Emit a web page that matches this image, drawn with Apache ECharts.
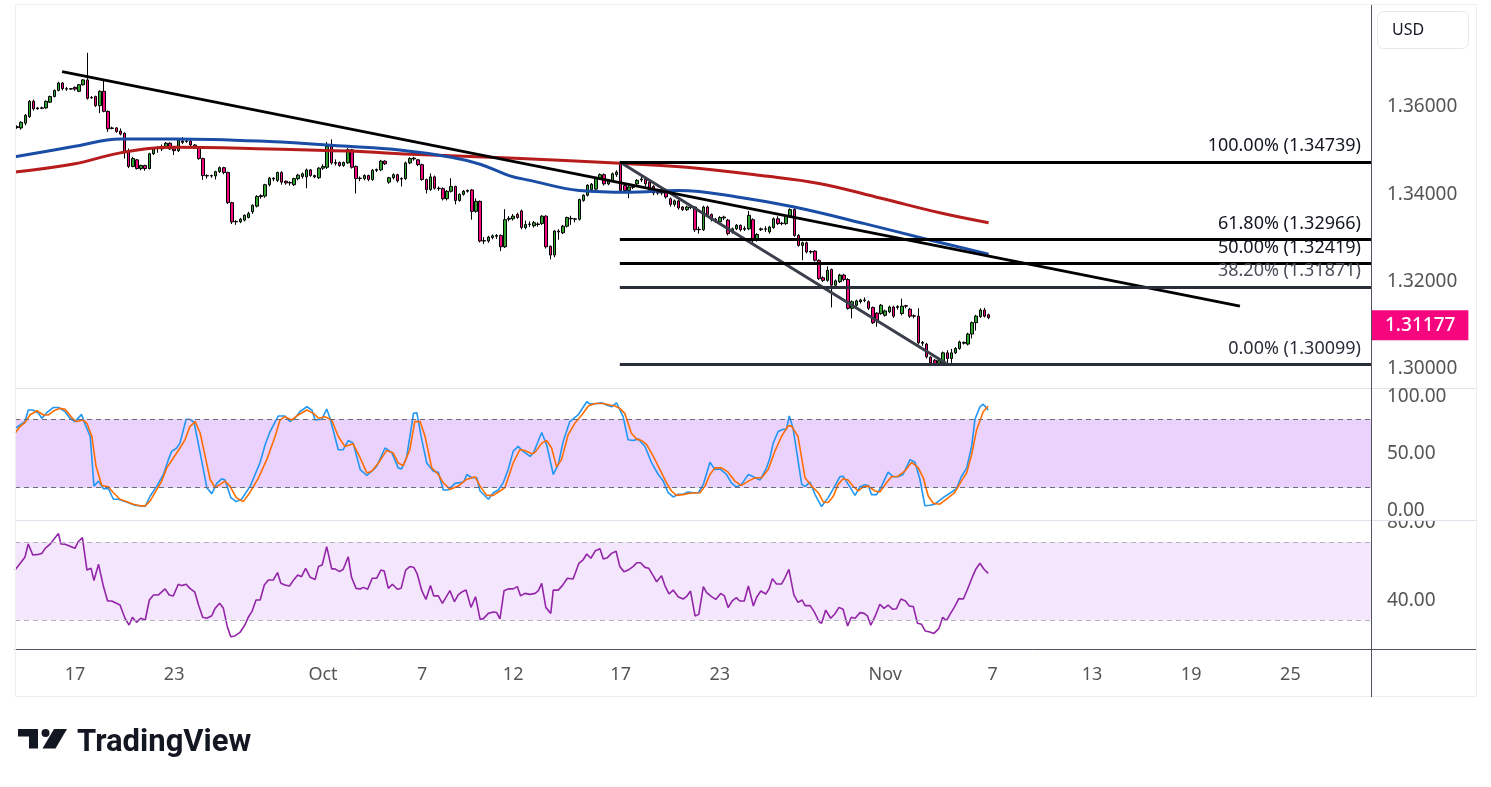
<!DOCTYPE html>
<html>
<head>
<meta charset="utf-8">
<title>GBPUSD 4H</title>
<script src="https://cdn.jsdelivr.net/npm/echarts@6/dist/echarts.min.js"></script>
<style>
  html, body { margin: 0; padding: 0; background: #fff; }
  #chart { width: 1491px; height: 787px; }
</style>
</head>
<body>
<div id="chart"></div>
<script>
// ---- data ----
// 4h candles, [open, close, low, high], first bar Sun 14 Sep 2025 17:00 (New York)
const candles = [
  [1.3553,1.3555,1.3550,1.3558],[1.3552,1.3565,1.3548,1.3567],[1.3563,1.3581,1.3558,1.3584],[1.3578,1.3613,1.3575,1.3616],
  [1.3613,1.3596,1.3592,1.3617],[1.3596,1.3598,1.3594,1.3600],[1.3598,1.3597,1.3595,1.3601],[1.3598,1.3613,1.3596,1.3615],
  [1.3611,1.3624,1.3609,1.3626],[1.3624,1.3638,1.3622,1.3640],[1.3638,1.3655,1.3636,1.3658],[1.3655,1.3642,1.3638,1.3657],
  [1.3642,1.3641,1.3637,1.3646],[1.3641,1.3642,1.3639,1.3643],
  [1.3645,1.3641,1.3637,1.3647],[1.3636,1.3651,1.3634,1.3653],[1.3651,1.3662,1.3649,1.3664],[1.3662,1.3620,1.3617,1.3724],
  [1.3622,1.3621,1.3619,1.3625],[1.3624,1.3603,1.3600,1.3626],[1.3603,1.3636,1.3586,1.3638],[1.3636,1.3590,1.3588,1.3661],
  [1.3590,1.3550,1.3543,1.3592],[1.3551,1.3552,1.3549,1.3555],[1.3552,1.3544,1.3541,1.3554],[1.3545,1.3538,1.3535,1.3551],
  [1.3540,1.3498,1.3482,1.3542],[1.3498,1.3464,1.3460,1.3505],[1.3464,1.3482,1.3462,1.3486],[1.3479,1.3459,1.3457,1.3481],
  [1.3459,1.3466,1.3455,1.3468],[1.3466,1.3459,1.3454,1.3468],[1.3459,1.3493,1.3457,1.3495],[1.3493,1.3504,1.3490,1.3506],
  [1.3505,1.3506,1.3495,1.3510],[1.3504,1.3509,1.3499,1.3514],[1.3509,1.3517,1.3505,1.3520],[1.3517,1.3504,1.3502,1.3519],
  [1.3504,1.3500,1.3490,1.3506],[1.3500,1.3525,1.3497,1.3528],
  [1.3519,1.3522,1.3515,1.3531],[1.3521,1.3522,1.3518,1.3525],[1.3522,1.3513,1.3510,1.3524],[1.3513,1.3506,1.3504,1.3515],
  [1.3508,1.3482,1.3479,1.3510],[1.3482,1.3443,1.3433,1.3484],[1.3443,1.3442,1.3436,1.3446],[1.3442,1.3443,1.3438,1.3445],
  [1.3442,1.3452,1.3434,1.3454],[1.3452,1.3461,1.3449,1.3464],
  [1.3461,1.3450,1.3446,1.3463],[1.3450,1.3381,1.3378,1.3452],[1.3381,1.3337,1.3332,1.3383],[1.3337,1.3338,1.3330,1.3341],
  [1.3337,1.3343,1.3334,1.3346],[1.3341,1.3352,1.3338,1.3354],[1.3347,1.3356,1.3345,1.3360],[1.3360,1.3375,1.3355,1.3377],
  [1.3373,1.3395,1.3370,1.3398],[1.3395,1.3397,1.3390,1.3400],
  [1.3396,1.3422,1.3392,1.3424],[1.3422,1.3437,1.3418,1.3440],[1.3437,1.3435,1.3430,1.3439],[1.3432,1.3450,1.3428,1.3452],
  [1.3450,1.3428,1.3422,1.3453],[1.3430,1.3426,1.3422,1.3432],[1.3426,1.3427,1.3420,1.3430],[1.3422,1.3436,1.3419,1.3438],
  [1.3436,1.3444,1.3432,1.3447],[1.3441,1.3447,1.3436,1.3450],
  [1.3440,1.3456,1.3414,1.3459],[1.3456,1.3443,1.3440,1.3458],[1.3443,1.3440,1.3437,1.3445],[1.3438,1.3460,1.3435,1.3462],
  [1.3460,1.3464,1.3456,1.3469],[1.3462,1.3510,1.3458,1.3520],[1.3510,1.3472,1.3468,1.3526],[1.3473,1.3471,1.3466,1.3480],
  [1.3473,1.3466,1.3463,1.3475],[1.3466,1.3473,1.3463,1.3475],
  [1.3472,1.3502,1.3470,1.3506],[1.3502,1.3462,1.3459,1.3504],[1.3464,1.3436,1.3402,1.3466],[1.3436,1.3437,1.3430,1.3441],
  [1.3436,1.3443,1.3432,1.3446],[1.3443,1.3434,1.3430,1.3445],[1.3434,1.3455,1.3431,1.3458],[1.3455,1.3457,1.3451,1.3459],
  [1.3456,1.3476,1.3453,1.3479],[1.3476,1.3470,1.3467,1.3478],
  [1.3428,1.3438,1.3424,1.3440],[1.3438,1.3445,1.3434,1.3448],[1.3445,1.3431,1.3427,1.3447],[1.3435,1.3436,1.3418,1.3439],
  [1.3436,1.3472,1.3433,1.3475],[1.3472,1.3482,1.3469,1.3485],[1.3481,1.3483,1.3477,1.3486],[1.3479,1.3468,1.3465,1.3481],
  [1.3468,1.3434,1.3431,1.3470],[1.3434,1.3411,1.3402,1.3436],
  [1.3411,1.3440,1.3408,1.3448],[1.3440,1.3414,1.3411,1.3443],[1.3414,1.3413,1.3408,1.3418],[1.3413,1.3390,1.3386,1.3416],
  [1.3390,1.3407,1.3386,1.3410],[1.3407,1.3418,1.3404,1.3437],[1.3418,1.3386,1.3377,1.3420],[1.3386,1.3400,1.3383,1.3402],
  [1.3400,1.3407,1.3397,1.3410],[1.3407,1.3409,1.3404,1.3411],
  [1.3410,1.3361,1.3342,1.3412],[1.3361,1.3384,1.3358,1.3391],[1.3384,1.3293,1.3290,1.3386],[1.3294,1.3293,1.3286,1.3302],
  [1.3293,1.3302,1.3289,1.3305],[1.3301,1.3305,1.3297,1.3308],[1.3304,1.3306,1.3298,1.3309],[1.3306,1.3280,1.3270,1.3308],
  [1.3280,1.3342,1.3277,1.3366],[1.3343,1.3345,1.3338,1.3350],
  [1.3344,1.3350,1.3340,1.3355],[1.3354,1.3347,1.3344,1.3358],[1.3362,1.3324,1.3320,1.3365],[1.3324,1.3331,1.3320,1.3340],
  [1.3331,1.3332,1.3325,1.3338],[1.3328,1.3335,1.3324,1.3339],[1.3331,1.3332,1.3326,1.3336],[1.3333,1.3350,1.3330,1.3352],
  [1.3350,1.3280,1.3276,1.3352],[1.3281,1.3261,1.3251,1.3283],
  [1.3261,1.3316,1.3256,1.3318],[1.3316,1.3314,1.3296,1.3320],[1.3312,1.3327,1.3309,1.3330],[1.3327,1.3347,1.3324,1.3349],
  [1.3345,1.3344,1.3330,1.3351],[1.3343,1.3344,1.3336,1.3346],[1.3343,1.3388,1.3340,1.3390],[1.3386,1.3398,1.3383,1.3400],
  [1.3398,1.3421,1.3395,1.3423],[1.3411,1.3423,1.3409,1.3426],
  [1.3412,1.3437,1.3408,1.3440],[1.3436,1.3445,1.3433,1.3448],[1.3445,1.3424,1.3420,1.3448],[1.3424,1.3432,1.3421,1.3434],
  [1.3432,1.3447,1.3429,1.3450],[1.3445,1.3451,1.3440,1.3455],[1.3469,1.3409,1.3403,1.34739],[1.3420,1.3409,1.3405,1.3423],
  [1.3409,1.3417,1.3391,1.3420],[1.3416,1.3418,1.3412,1.3421],
  [1.3424,1.3432,1.3421,1.3435],[1.3433,1.3435,1.3428,1.3440],[1.3434,1.3424,1.3418,1.3437],[1.3428,1.3409,1.3404,1.3431],
  [1.3418,1.3403,1.3398,1.3421],[1.3410,1.3403,1.3399,1.3413],[1.3403,1.3410,1.3398,1.3413],[1.3410,1.3394,1.3390,1.3413],
  [1.3390,1.3377,1.3372,1.3393],[1.3377,1.3385,1.3372,1.3388],
  [1.3385,1.3369,1.3365,1.3388],[1.3371,1.3365,1.3362,1.3373],[1.3365,1.3371,1.3362,1.3374],[1.3370,1.3372,1.3366,1.3376],
  [1.3371,1.3319,1.3314,1.3373],[1.3320,1.3319,1.3310,1.3326],[1.3319,1.3371,1.3316,1.3374],[1.3371,1.3354,1.3351,1.3374],
  [1.3354,1.3342,1.3338,1.3356],[1.3343,1.3341,1.3335,1.3346],
  [1.3337,1.3347,1.3333,1.3350],[1.3346,1.3348,1.3341,1.3351],[1.3341,1.3310,1.3306,1.3344],[1.3314,1.3321,1.3310,1.3324],
  [1.3321,1.3329,1.3318,1.3332],[1.3329,1.3319,1.3315,1.3331],[1.3320,1.3322,1.3316,1.3327],[1.3321,1.3352,1.3318,1.3362],
  [1.3342,1.3295,1.3287,1.3345],[1.3296,1.3308,1.3292,1.3311],
  [1.3319,1.3321,1.3316,1.3324],[1.3321,1.3320,1.3314,1.3327],[1.3314,1.3325,1.3310,1.3328],[1.3324,1.3344,1.3321,1.3347],
  [1.3344,1.3333,1.3330,1.3350],[1.3334,1.3333,1.3329,1.3337],[1.3333,1.3350,1.3330,1.3353],[1.3350,1.3365,1.3347,1.3368],
  [1.3365,1.3306,1.3303,1.3368],[1.3306,1.3283,1.3280,1.3309],
  [1.3283,1.3289,1.3249,1.3292],[1.3289,1.3268,1.3265,1.3292],[1.3269,1.3268,1.3264,1.3272],[1.3270,1.3249,1.3246,1.3272],
  [1.3249,1.3207,1.3204,1.3251],[1.3209,1.3203,1.3199,1.3212],[1.3203,1.3226,1.3200,1.3235],[1.3228,1.3192,1.3141,1.3230],
  [1.3192,1.3202,1.3188,1.3205],[1.3200,1.3215,1.3197,1.3218],
  [1.3215,1.3205,1.3201,1.3218],[1.3205,1.3139,1.3136,1.3208],[1.3139,1.3154,1.3116,1.3157],[1.3146,1.3156,1.3143,1.3159],
  [1.3154,1.3158,1.3150,1.3161],[1.3157,1.3158,1.3153,1.3164],[1.3154,1.3139,1.3135,1.3157],[1.3141,1.3106,1.3103,1.3143],
  [1.3128,1.3112,1.3097,1.3130],[1.3127,1.3146,1.3124,1.3149],
  [1.3123,1.3133,1.3120,1.3136],[1.3131,1.3142,1.3128,1.3145],[1.3142,1.3121,1.3117,1.3145],[1.3141,1.3143,1.3136,1.3146],
  [1.3127,1.3144,1.3123,1.3161],[1.3145,1.3144,1.3139,1.3147],[1.3137,1.3121,1.3117,1.3140],[1.3122,1.3121,1.3116,1.3125],
  [1.3121,1.3060,1.3056,1.3139],[1.3061,1.3059,1.3053,1.3064],
  [1.3057,1.3028,1.3024,1.3060],[1.3027,1.3014,1.3010,1.3029],[1.3020,1.3013,1.30099,1.3023],[1.3013,1.3019,1.3010,1.3022],
  [1.3015,1.3037,1.3012,1.3040],[1.3037,1.3024,1.3012,1.3043],[1.3024,1.3037,1.3014,1.3046],[1.3037,1.3047,1.3034,1.3050],
  [1.3047,1.3062,1.3044,1.3065],[1.3059,1.3061,1.3056,1.3063],
  [1.3057,1.3080,1.3054,1.3083],[1.3080,1.3106,1.3070,1.3109],[1.3106,1.3121,1.3088,1.3124],[1.3120,1.3135,1.3117,1.3139],
  [1.3135,1.3121,1.3118,1.3140],[1.3124,1.31177,1.3114,1.3127]
];
const lastPrice = 1.31177;

// moving averages, [bar index, price] read at points along each line
const maBlue = [[-0.5,1.3486],[14,1.3510],[25,1.3527],[38,1.3527],[61,1.3521],[80,1.3510],[92,1.3502],[105,1.3485],
  [112,1.3469],[119,1.3443],[124,1.3432],[136,1.3409],[148,1.3405],[160,1.3409],[175,1.3393],[188,1.3371],
  [205,1.3333],[221,1.3295],[235,1.3263]];
const maRed = [[-0.5,1.3451],[14,1.3470],[25,1.3495],[38,1.3508],[61,1.3504],[80,1.3499],[97,1.3491],[119,1.3483],
  [146,1.3471],[162,1.3462],[180,1.3443],[194,1.3425],[209,1.3391],[224,1.3356],[235,1.3335]];

// drawings
const trendLine = [[10.9,1.3681],[295.8,1.3144]];
const channelLine = [[145.8,1.34739],[224.7,1.3013]];
const fibStart = 145.8;
const fibNames = ['100.00%','61.80%','50.00%','38.20%','0.00%'];
const fibPrices = [1.34739,1.32966,1.32419,1.31871,1.30099];

// Stochastic RSI (%K, %D) and RSI, [bar index, value]
const stochK = [[-0.5,72],[1.9,78.0],[2.7,88.1],[3.9,88.1],[5.2,85.2],[6.0,80.9],[7.2,85.8],[8.8,90.4],[10.0,90.4],[11.6,86.7],
  [12.8,80.9],[14.0,78.0],[15.6,84.3],[16.2,78.0],[17.7,64.9],[18.6,21.4],[19.7,25.8],[20.9,19.1],[22.1,19.1],[23.3,9.9],
  [24.5,9.9],[26.1,7.8],[27.3,6.4],[28.5,4.6],[29.8,4.1],[31.0,3.5],[32.2,12.7],[33.8,21.4],[35.4,31.6],[36.6,44.6],
  [37.4,51.9],[38.6,54.8],[39.4,59.1],[40.9,80.0],[41.8,80.0],[42.8,77.4],[44.3,50.4],[45.9,20.0],[47.1,14.8],[48.3,23.8],
  [49.5,27.8],[50.3,26.7],[51.7,11.3],[53.0,7.8],[54.3,9.9],[56.4,21.4],[58.8,42.3],[60.0,57.7],[61.2,69.3],[63.2,82.9],
  [64.8,82.9],[66.0,78.0],[67.2,80.9],[68.4,86.7],[70.1,91.0],[71.3,88.1],[72.1,79.4],[73.7,80.0],[74.9,89.0],[75.7,80.9],
  [77.7,53.3],[78.9,53.3],[80.1,61.4],[81.3,59.1],[83.0,35.9],[84.6,30.7],[86.2,35.9],[87.0,38.8],[89.0,54.8],[90.6,51.0],
  [92.2,37.4],[93.0,36.5],[94.2,46.1],[95.9,85.2],[96.7,85.8],[97.9,62.0],[99.1,41.7],[100.7,34.5],[101.9,33.6],[103.1,18.0],
  [104.3,18.0],[105.9,23.8],[108.0,24.9],[108.8,31.6],[110.0,28.7],[111.2,28.7],[112.0,17.1],[114.0,9.9],[115.2,15.6],
  [116.4,18.0],[117.6,24.3],[118.8,35.9],[120.0,51.9],[121.2,56.2],[122.4,51.9],[124.1,47.5],[124.9,50.4],[126.9,68.4],
  [128.1,57.7],[129.7,31.6],[130.9,40.3],[132.1,60.6],[133.7,78.0],[135.7,83.8],[137.8,95.4],[138.6,93.3],[140.2,93.9],
  [141.4,94.5],[142.6,92.5],[143.8,91.0],[145.0,94.5],[146.6,82.3],[147.8,62.0],[149.0,61.4],[150.3,62.6],[151.9,56.2],
  [153.5,41.7],[155.1,31.6],[156.3,25.8],[157.5,15.6],[158.7,11.9],[159.9,14.2],[161.1,14.2],[162.3,16.2],[163.6,15.6],
  [164.8,15.6],[166.0,22.9],[167.6,42.3],[168.8,35.9],[170.0,36.5],[171.6,31.6],[172.8,24.3],[174.0,20.6],[175.2,22.9],
  [176.9,31.6],[178.1,29.6],[179.7,26.7],[181.3,37.4],[182.1,46.1],[182.9,59.1],[184.1,69.3],[185.3,71.3],[186.1,71.3],
  [186.8,82.9],[187.7,72.2],[189.8,22.9],[190.6,20.9],[191.8,24.9],[193.0,14.2],[194.6,3.5],[196.2,11.3],[197.8,21.4],
  [199.0,29.6],[199.8,30.1],[201.4,20.9],[202.7,13.3],[203.9,20.9],[205.1,22.6],[205.9,22.0],[206.7,13.9],[207.9,13.9],
  [209.1,21.4],[210.7,33.6],[211.9,29.6],[213.1,29.6],[214.3,31.6],[216.0,44.6],[217.2,42.3],[218.4,27.2],[219.6,4.1],
  [220.8,4.6],[222.0,5.5],[224.0,11.3],[225.6,15.1],[227.2,19.1],[228.4,29.6],[229.7,37.4],[230.9,56.2],[231.7,80.0],
  [232.9,91.0],[233.7,93.3],[234.9,88.1]];
const stochD = [[-0.5,67.8],[0.7,73.6],[1.9,77.1],[3.1,83.8],[4.8,87.5],[6.4,83.8],[7.6,83.8],[8.8,87.2],[10.4,89.6],
  [11.6,88.7],[13.6,80.0],[14.4,78.0],[16.0,79.4],[16.9,76.5],[18.1,64.9],[19.1,38.8],[20.5,22.0],[22.1,20.9],[23.3,15.6],
  [24.9,9.9],[26.1,8.4],[28.1,5.5],[29.8,4.1],[31.0,4.1],[32.2,8.4],[33.8,18.5],[35.0,25.8],[36.2,37.4],[37.8,46.1],
  [39.4,54.8],[40.6,62.0],[41.8,73.6],[43.1,78.0],[44.3,67.8],[45.5,47.5],[46.7,27.2],[47.9,20.0],[49.1,22.9],[50.3,25.8],
  [51.5,21.4],[53.0,11.3],[54.7,7.8],[56.3,15.6],[58.4,28.7],[60.4,44.6],[62.4,64.9],[63.6,79.4],[64.8,82.3],[66.4,79.4],
  [68.0,83.8],[70.1,88.1],[71.7,85.2],[72.9,80.9],[74.5,82.3],[76.1,79.4],[77.7,64.9],[79.3,56.2],[81.3,58.5],[83.0,46.1],
  [84.6,33.0],[85.8,34.5],[87.4,41.7],[89.4,52.7],[91.0,50.4],[92.2,41.7],[93.4,39.4],[95.0,53.3],[96.2,78.0],[97.5,78.0],
  [98.7,64.9],[100.3,37.4],[101.9,31.6],[103.1,24.3],[104.7,18.5],[106.7,21.4],[108.7,27.2],[110.8,29.6],[112.0,21.4],
  [113.6,13.3],[115.2,13.3],[116.8,17.1],[118.0,20.0],[120.0,41.7],[121.6,53.3],[122.8,52.7],[124.5,49.8],[125.3,51.0],
  [126.9,59.1],[128.1,61.4],[129.3,54.8],[130.5,38.3],[131.7,44.6],[133.3,66.4],[134.9,76.5],[136.6,83.8],[138.2,91.6],
  [139.8,93.9],[141.8,93.9],[143.4,92.5],[144.6,91.6],[145.8,89.6],[147.0,85.2],[148.6,67.8],[149.9,62.6],[151.1,61.4],
  [152.3,57.7],[153.9,47.5],[155.5,35.9],[157.1,24.3],[158.3,17.1],[159.5,13.3],[161.1,13.9],[162.7,15.1],[165.2,15.6],
  [166.4,21.4],[167.6,31.6],[168.8,37.4],[170.4,37.4],[172.0,33.6],[173.6,25.8],[175.2,22.0],[176.9,25.8],[178.5,28.7],
  [180.1,28.7],[181.7,35.9],[183.3,51.9],[184.9,64.9],[186.5,74.2],[187.3,74.2],[188.9,64.9],[190.6,28.7],[192.2,21.4],
  [193.8,15.6],[195.0,7.5],[196.2,7.0],[197.4,12.2],[198.6,22.9],[199.8,27.8],[201.0,26.7],[202.2,21.4],[203.5,17.1],
  [204.7,20.9],[205.9,21.4],[207.5,17.1],[208.7,16.2],[210.3,24.3],[211.5,29.6],[213.1,30.1],[214.7,34.5],[216.4,42.3],
  [218.0,37.4],[219.2,28.7],[220.4,12.7],[221.6,6.4],[223.2,5.5],[224.8,9.9],[226.8,15.6],[228.4,25.8],[229.7,33.0],
  [230.9,49.0],[232.1,70.7],[233.7,86.7],[234.9,91.6]];
const rsi = [[-0.5,55.7],[1.9,62.3],[2.7,69.1],[3.8,63.5],[5.2,63.8],[6.0,64.3],[6.8,66.9],[8.0,69.0],[10.0,74.6],[10.6,69.1],
  [11.6,69.0],[14.0,66.9],[14.8,70.3],[15.8,72.4],[16.9,55.7],[17.9,56.6],[18.6,50.3],[19.7,58.7],[20.9,47.2],[21.9,39.8],
  [22.9,39.8],[24.9,37.7],[26.1,30.9],[27.1,27.4],[27.9,31.4],[28.9,28.8],[29.9,30.9],[31.0,30.0],[32.0,40.3],[33.0,42.9],
  [34.2,42.9],[35.8,46.0],[36.8,42.9],[37.8,42.4],[39.0,48.4],[39.8,47.7],[40.9,48.4],[41.8,46.3],[43.0,44.3],[43.9,37.7],
  [44.9,31.4],[45.9,30.9],[47.1,32.2],[47.9,36.0],[49.0,38.6],[49.9,36.0],[50.9,26.2],[51.7,21.4],[52.7,21.8],[53.9,23.6],
  [55.1,27.4],[56.0,31.7],[56.8,34.3],[57.8,40.3],[58.8,40.3],[59.8,48.0],[60.8,50.6],[62.0,50.6],[63.0,54.4],[63.8,48.9],
  [64.8,48.0],[65.9,47.5],[67.0,50.9],[67.9,53.2],[68.8,52.3],[69.8,56.6],[70.9,52.0],[72.1,50.9],[72.9,57.5],[73.8,58.3],
  [74.9,67.8],[76.1,56.3],[76.9,56.3],[78.0,54.9],[78.9,56.1],[80.1,62.6],[80.9,52.0],[82.0,46.3],[83.0,46.0],[83.8,46.8],
  [84.8,45.8],[85.9,51.5],[87.0,51.5],[88.0,55.7],[88.8,55.2],[89.8,46.3],[90.8,48.4],[92.0,45.8],[92.9,46.3],[94.0,55.7],
  [95.0,57.5],[96.0,57.0],[96.8,53.7],[97.9,45.1],[98.9,40.6],[100.0,47.7],[100.8,42.4],[101.9,42.4],[102.9,38.6],
  [104.7,45.1],[105.8,39.4],[106.7,42.9],[107.7,44.6],[108.6,45.4],[109.8,36.5],[110.9,42.0],[112.0,30.3],[112.8,30.7],
  [114.0,33.4],[115.2,34.1],[116.0,33.9],[116.8,30.6],[117.8,45.1],[118.8,46.0],[120.0,46.0],[121.0,47.2],[121.8,42.4],
  [122.8,43.7],[124.1,43.2],[125.3,43.7],[126.1,45.1],[126.9,48.9],[127.9,36.5],[129.1,33.4],[129.7,45.4],[130.9,45.4],
  [131.9,47.7],[133.1,51.5],[134.5,51.1],[135.9,59.2],[136.9,60.9],[137.8,64.0],[138.8,61.8],[139.9,65.7],[141.0,66.7],
  [141.8,61.4],[142.8,62.1],[143.8,64.3],[144.9,65.4],[145.8,57.5],[146.8,54.9],[147.8,55.7],[149.0,57.5],[149.9,59.5],
  [150.8,59.5],[151.9,57.1],[152.8,56.6],[153.9,52.7],[154.7,49.7],[155.9,52.8],[156.7,47.7],[157.7,43.4],[158.7,45.4],
  [159.9,42.0],[161.1,40.8],[161.9,42.0],[162.9,44.9],[164.0,32.1],[164.9,32.9],[166.0,47.2],[166.8,44.1],[168.0,42.0],
  [169.0,40.6],[170.2,43.7],[171.1,42.4],[172.0,36.4],[173.0,39.9],[174.0,41.5],[174.8,39.8],[175.9,39.8],[176.9,47.5],
  [178.1,37.2],[178.9,41.7],[179.9,44.9],[181.1,43.4],[181.9,46.0],[182.7,51.3],[183.7,48.5],[184.9,48.5],[185.8,52.0],
  [186.7,56.1],[187.9,42.9],[188.9,39.1],[189.9,40.3],[190.6,37.4],[191.8,37.5],[192.8,34.3],[194.0,29.1],[194.6,28.3],
  [195.6,35.1],[196.8,30.9],[197.8,33.1],[198.8,36.5],[199.8,35.5],[200.9,26.9],[201.8,31.4],[202.7,30.9],[203.9,33.8],
  [204.9,33.4],[205.7,32.1],[206.5,27.3],[207.5,31.7],[208.7,38.1],[209.7,36.0],[210.7,37.7],[211.8,35.5],[212.7,35.8],
  [213.8,40.8],[214.9,39.8],[215.8,37.2],[216.8,36.9],[217.8,28.3],[218.8,27.8],[219.7,24.3],[220.8,23.8],[221.8,23.1],
  [223.0,25.7],[223.9,31.4],[224.8,29.7],[225.8,33.4],[226.8,36.9],[227.8,41.0],[228.9,40.8],[229.9,45.8],[231.1,52.3],
  [231.9,56.1],[232.9,59.2],[233.9,56.1],[234.9,54.0]];

// axis ticks
const priceTicks = [1.30, 1.32, 1.34, 1.36];
const stochTicks = [0, 50, 100];
const rsiTicks = [40, 80];
const tickDays = ['2025-09-17','2025-09-23','2025-10-01','2025-10-07','2025-10-12','2025-10-17',
  '2025-10-23','2025-11-02','2025-11-07','2025-11-13','2025-11-19','2025-11-25'];
const tickLabels = ['17','23','Oct','7','12','17','23','Nov','7','13','19','25'];

// ---- 4h bar times (FX session, NY clock): Sun 17,21 / Mon-Thu 6 bars / Fri until 13 ----
const SLOTS = 328;
const sessionHours = [[17,21],[1,5,9,13,17,21],[1,5,9,13,17,21],[1,5,9,13,17,21],[1,5,9,13,17,21],[1,5,9,13],[]];
function buildBars(count) {
  const out = [];
  const d = new Date(Date.UTC(2025, 8, 14));
  while (out.length < count) {
    const day = d.toISOString().slice(0, 10);
    for (const h of sessionHours[d.getUTCDay()]) {
      if (out.length < count) out.push(day + ' ' + String(h).padStart(2, '0') + ':00');
    }
    d.setUTCDate(d.getUTCDate() + 1);
  }
  return out;
}
const bars = buildBars(SLOTS);
const labelAt = {};
tickDays.forEach((day, i) => {
  const idx = bars.findIndex(b => b.startsWith(day));
  if (idx >= 0) labelAt[idx] = tickLabels[i];
});

const FONT = "'Noto Sans', sans-serif";
const AXIS_TXT = '#555';
const GREEN = '#2fa52f';
const PINK = '#f2087c';
const xMin = -0.5, xMax = SLOTS - 0.5;

const fibColors = ['#000', '#000', '#000', '#2a2e39', '#2a2e39'];
const fibTextColors = ['#131722', '#131722', '#131722', '#4a4e59', '#2a2e39'];
const fibMarks = fibPrices.map((p, i) => {
  const common = {
    lineStyle: { color: fibColors[i], width: 3, type: 'solid', opacity: 1 },
    label: {
      show: true, position: 'insideEndTop', distance: [10, 7],
      formatter: fibNames[i] + ' (' + p.toFixed(5) + ')',
      color: fibTextColors[i], fontSize: 18, fontFamily: FONT
    }
  };
  return [Object.assign({ coord: [fibStart, p] }, common), Object.assign({ coord: [xMax, p] }, common)];
});

const chart = echarts.init(document.getElementById('chart'));
chart.setOption({
  animation: false,
  backgroundColor: '#fff',
  textStyle: { fontFamily: FONT },
  grid: [
    { left: 15, top: 5, width: 1356, height: 383 },
    { left: 15, top: 388, width: 1356, height: 132 },
    { left: 15, top: 520, width: 1356, height: 129 }
  ],
  xAxis: [
    { type: 'category', gridIndex: 0, data: bars, boundaryGap: true,
      axisLine: { show: false }, axisTick: { show: false }, axisLabel: { show: false }, splitLine: { show: false } },
    { type: 'value', gridIndex: 0, min: xMin, max: xMax, show: false },
    { type: 'value', gridIndex: 1, min: xMin, max: xMax, show: false },
    { type: 'value', gridIndex: 2, min: xMin, max: xMax, show: false },
    { type: 'category', gridIndex: 2, data: bars, boundaryGap: true, position: 'bottom',
      axisLine: { show: true, lineStyle: { color: '#50535e', width: 1 } },
      axisTick: { show: false }, splitLine: { show: false },
      axisLabel: {
        interval: (index) => labelAt[index] !== undefined,
        formatter: (value, index) => labelAt[index] || '',
        color: AXIS_TXT, fontSize: 18, margin: 17, fontFamily: FONT
      } }
  ],
  yAxis: [
    { type: 'value', gridIndex: 0, position: 'right', min: 1.29565, max: 1.38336,
      axisLine: { show: false }, axisTick: { show: false }, splitLine: { show: false },
      axisLabel: { customValues: priceTicks, formatter: v => v.toFixed(5), color: AXIS_TXT, fontSize: 19, margin: 16,
        padding: [4, 0, 0, 0], fontFamily: FONT } },
    { type: 'value', gridIndex: 1, position: 'right', min: -8.33, max: 107.46, z: 60,
      axisLine: { show: false }, axisTick: { show: false }, splitLine: { show: false },
      axisLabel: { customValues: stochTicks, formatter: v => v.toFixed(2), color: AXIS_TXT, fontSize: 19, margin: 16, fontFamily: FONT } },
    { type: 'value', gridIndex: 2, position: 'right', min: 15.07, max: 81.48, z: 0,
      axisLine: { show: false }, axisTick: { show: false }, splitLine: { show: false },
      axisLabel: { customValues: rsiTicks, formatter: v => v.toFixed(2), color: AXIS_TXT, fontSize: 19, margin: 16, fontFamily: FONT } }
  ],
  series: [
    {
      name: 'GBPUSD', type: 'candlestick', xAxisIndex: 0, yAxisIndex: 0,
      data: candles, barWidth: 3,
      itemStyle: { color: GREEN, color0: PINK, borderColor: '#000', borderColor0: '#000', borderColorDoji: '#000', borderWidth: 1 },
      markLine: {
        silent: true, symbol: ['none', 'none'],
        lineStyle: { color: 'rgba(0,0,0,0)', width: 1 },
        label: {
          show: true, position: 'end', distance: 1,
          formatter: lastPrice.toFixed(5),
          color: '#fff', backgroundColor: '#f7057f', padding: [6, 13, 5, 13],
          fontSize: 19, fontWeight: 500, fontFamily: FONT
        },
        data: [{ yAxis: lastPrice }]
      }
    },
    { name: 'MA slow', type: 'line', xAxisIndex: 1, yAxisIndex: 0, data: maRed, smooth: 0.4,
      symbol: 'none', lineStyle: { color: '#b71c1c', width: 3 } },
    { name: 'MA fast', type: 'line', xAxisIndex: 1, yAxisIndex: 0, data: maBlue, smooth: 0.4,
      symbol: 'none', lineStyle: { color: '#1a4da5', width: 3 } },
    { name: 'Channel', type: 'line', xAxisIndex: 1, yAxisIndex: 0, data: channelLine,
      symbol: 'none', lineStyle: { color: '#3b3f4b', width: 3 } },
    { name: 'Trend', type: 'line', xAxisIndex: 1, yAxisIndex: 0, data: trendLine,
      symbol: 'none', lineStyle: { color: '#000', width: 3 },
      markLine: { silent: true, symbol: ['none', 'none'],
        lineStyle: { width: 3, type: 'solid' }, data: fibMarks } },
    {
      name: 'Stoch K', type: 'line', xAxisIndex: 2, yAxisIndex: 1, data: stochK,
      symbol: 'none', lineStyle: { color: '#2196f3', width: 1.6 },
      markArea: { silent: true, itemStyle: { color: '#ead2fd' }, data: [[{ yAxis: 80 }, { yAxis: 20 }]] },
      markLine: { silent: true, symbol: ['none', 'none'], label: { show: false },
        lineStyle: { color: '#6a6d78', width: 1, type: [5, 4] }, data: [{ yAxis: 80 }, { yAxis: 20 }] }
    },
    { name: 'Stoch D', type: 'line', xAxisIndex: 2, yAxisIndex: 1, data: stochD,
      symbol: 'none', lineStyle: { color: '#ff6d00', width: 1.6 } },
    {
      name: 'RSI', type: 'line', xAxisIndex: 3, yAxisIndex: 2, data: rsi,
      symbol: 'none', lineStyle: { color: '#9325a8', width: 1.6 },
      markArea: { silent: true, itemStyle: { color: '#f4e6fd' }, data: [[{ yAxis: 70 }, { yAxis: 30 }]] },
      markLine: { silent: true, symbol: ['none', 'none'], label: { show: false },
        lineStyle: { color: '#b2b5be', width: 1, type: [5, 4] }, data: [{ yAxis: 70 }, { yAxis: 30 }] }
    }
  ],
  graphic: [
    // frame and pane separators
    { type: 'rect', z: 40, silent: true, shape: { x: 15.5, y: 4.5, width: 1461, height: 692 },
      style: { fill: null, stroke: '#eceef2', lineWidth: 1 } },
    { type: 'line', z: 40, silent: true, shape: { x1: 15, y1: 388.5, x2: 1476, y2: 388.5 }, style: { stroke: '#e0e3eb', lineWidth: 1 } },
    { type: 'line', z: 40, silent: true, shape: { x1: 15, y1: 520.5, x2: 1476, y2: 520.5 }, style: { stroke: '#e0e3eb', lineWidth: 1 } },
    { type: 'line', z: 40, silent: true, shape: { x1: 1371, y1: 649.5, x2: 1476, y2: 649.5 }, style: { stroke: '#50535e', lineWidth: 1 } },
    { type: 'line', z: 40, silent: true, shape: { x1: 1371.5, y1: 5, x2: 1371.5, y2: 697 }, style: { stroke: '#50535e', lineWidth: 1 } },
    // pane clip over the RSI top label
    { type: 'rect', z: 30, silent: true, shape: { x: 1374, y: 500, width: 100, height: 20 }, style: { fill: '#fff' } },
    // currency box
    { type: 'rect', z: 40, silent: true, shape: { x: 1377.5, y: 11.5, width: 91, height: 37, r: 6 },
      style: { fill: '#fff', stroke: '#e6e8ee', lineWidth: 1 } },
    { type: 'text', z: 41, silent: true, style: { x: 1392, y: 30, text: 'USD', fill: '#131722', fontSize: 16, fontFamily: FONT, verticalAlign: 'middle' } },
    // TradingView logo
    { type: 'polygon', silent: true, shape: { points: [[18,729],[38,729],[38,748.5],[29,748.5],[29,736.5],[18,736.5]] }, style: { fill: '#131722' } },
    { type: 'circle', silent: true, shape: { cx: 45.5, cy: 733, r: 4 }, style: { fill: '#131722' } },
    { type: 'polygon', silent: true, shape: { points: [[54,729],[67,729],[55.5,748.5],[42.5,748.5]] }, style: { fill: '#131722' } },
    { type: 'text', silent: true, style: { x: 77, y: 743, text: 'TradingView', fill: '#131722', fontSize: 31, fontWeight: 'bold',
      fontFamily: "Roboto, 'Noto Sans', sans-serif", verticalAlign: 'middle' } }
  ]
});
</script>
</body>
</html>
